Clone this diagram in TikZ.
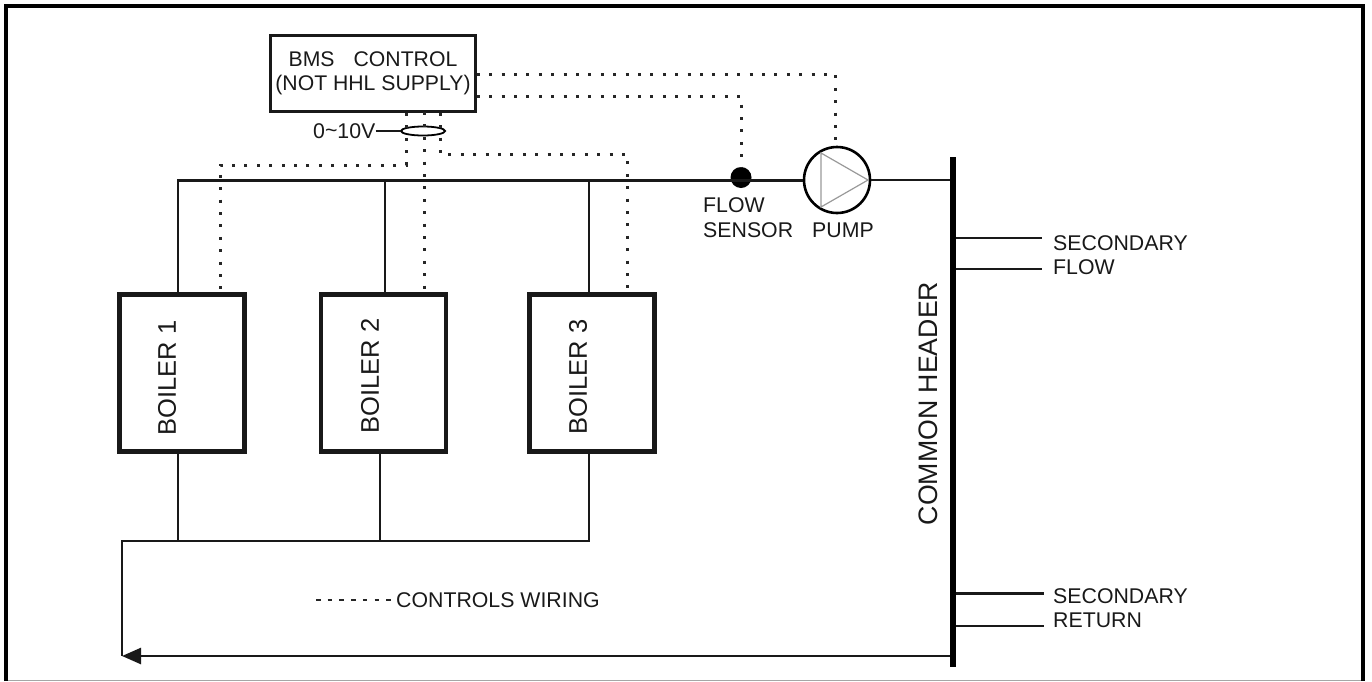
\documentclass[tikz,border=0pt]{standalone}
\usepackage{fontspec}
\setmainfont{Liberation Sans}
\usetikzlibrary{arrows.meta,calc,shapes.geometric}
\tikzset{
  pipe/.style={draw=black!90,line width=2.6pt},
  wire/.style={draw=black!85,line width=3pt,dash pattern=on 3pt off 9.4pt},
  boilerbox/.style={draw=black!90,line width=4.6pt,minimum width=125pt,minimum height=157pt,inner sep=0pt},
  lab/.style={font=\fontsize{21.3}{25}\selectfont,inner sep=0pt,text=black!90},
  biglab/.style={font=\fontsize{25.5}{30}\selectfont,inner sep=0pt,text=black!90,rotate=90},
}
\begin{document}
\begin{tikzpicture}[x=1pt,y=-1pt]
\useasboundingbox (0,0) rectangle (1372,681);
% frame
\coordinate (fbl) at (6,681); \coordinate (ftl) at (6,6); \coordinate (ftr) at (1363,6); \coordinate (fbr) at (1363,681);
\draw[black,line width=4pt,line cap=butt,line join=miter] (fbl) -- (ftl) -- (ftr) -- (fbr);
\coordinate (gl) at (8,680.5); \coordinate (gr) at (1361,680.5);
\draw[black!35,line width=1pt] (gl) -- (gr);
% nodes
\node[draw=black!90,line width=2.6pt,minimum width=205pt,minimum height=76pt,inner sep=0pt,lab,align=center,font=\fontsize{21.2}{25}\selectfont] (bms) at (373,73.5) {BMS\hspace{0.9em}CONTROL\\[-1pt](NOT HHL SUPPLY)};
\node[boilerbox] (b1) at (182,373) {};
\node[boilerbox] (b2) at (383.5,373) {};
\node[boilerbox] (b3) at (592,373) {};
\node[biglab] (t1) at (167,378) {BOILER 1};
\node[biglab] (t2) at (370,376) {BOILER 2};
\node[biglab] (t3) at (578,377) {BOILER 3};
\node[biglab,font=\fontsize{26.7}{30}\selectfont] (ch) at (928,403.5) {COMMON HEADER};
\node[fill=black,draw=none,minimum width=6pt,minimum height=510pt,inner sep=0pt] (hdr) at (953,412) {};
\node[circle,fill=black,draw=none,minimum size=21pt,inner sep=0pt] (sens) at (741,177.5) {};
\node[circle,draw=black,line width=2.6pt,minimum size=66pt,inner sep=0pt] (pump) at (837,180) {};
\coordinate (ta) at (821,153); \coordinate (tb) at (821,207); \coordinate (tc) at (868,180);
\draw[black!40,line width=1.2pt,line join=miter] (ta) -- (tc) -- (tb) -- cycle;
\node[lab,anchor=west] (lflow) at (703,205) {FLOW};
\node[lab,anchor=west] (lsens) at (703,230) {SENSOR};
\node[lab,anchor=west] (lpump) at (812,230) {PUMP};
\node[lab,anchor=west] (sf1) at (1053,243) {SECONDARY};
\node[lab,anchor=west] (sf2) at (1053,267) {FLOW};
\node[lab,anchor=west] (sr1) at (1053,596) {SECONDARY};
\node[lab,anchor=west] (sr2) at (1053,620) {RETURN};
\node[lab,anchor=west] (v) at (313,131) {0\raisebox{1pt}{\textasciitilde}10V};
\node[lab,anchor=west] (cw) at (396,600) {CONTROLS WIRING};
\node[draw=black,line width=1.8pt,ellipse,minimum width=44pt,minimum height=9pt,inner sep=0pt] (cab) at (423,131) {};
% flow pipes
\coordinate (f0) at (178,180.5);
\coordinate (f2) at (385,180.5);
\coordinate (f3) at (589,180.5);
\draw[pipe] (b1.north -| f0) -- (f0) -- (pump.west |- f0);
\draw[pipe] (b2.north -| f2) -- (f2);
\draw[pipe] (b3.north -| f3) -- (f3);
\draw[pipe] (pump.east) -- (pump.east -| hdr.west);
% return pipes
\coordinate (r0) at (122,541);
\coordinate (r1) at (178,541);
\coordinate (r2) at (380,541);
\coordinate (r3) at (589,541);
\coordinate (rb) at (122,656);
\draw[pipe] (b1.south -| r1) -- (r1);
\draw[pipe] (b2.south -| r2) -- (r2);
\draw[pipe,line join=miter] (b3.south -| r3) -- (r3) -- (r0) -- (rb);
\draw[pipe,-{Triangle[length=19pt,width=16pt]}] (hdr.west |- rb) -- (rb);
% secondary stubs
\coordinate (s1) at (1042,238); \coordinate (s2) at (1042,269);
\coordinate (s3) at (1044,593.5); \coordinate (s4) at (1044,626);
\foreach \c in {s1,s2,s3,s4} \draw[pipe] (hdr.east |- \c) -- (\c);
\draw[pipe] (v.east) -- (cab.west);
% wiring
\coordinate (w1a) at (476,74); \coordinate (w1b) at (835,74);
\coordinate (w2a) at (476,96); \coordinate (w2b) at (741,96);
\draw[wire] (bms.east |- w1a) -- (w1b) -- (w1b |- pump.north);
\draw[wire] (bms.east |- w2a) -- (w2b) -- (sens.north);
\coordinate (d1) at (406,165); \coordinate (d1b) at (220,165);
\draw[wire] (bms.south -| d1) -- (d1) -- (d1b) -- (d1b |- b1.north);
\coordinate (d2) at (424,112);
\draw[wire] (d2) -- (d2 |- b2.north);
\coordinate (d3) at (440,154); \coordinate (d3b) at (627,154);
\draw[wire] (bms.south -| d3) -- (d3) -- (d3b) -- (d3b |- b3.north);
% legend
\coordinate (la) at (316,600); \coordinate (lb) at (391,600);
\draw[wire,line width=2.6pt,dash pattern=on 4.5pt off 7.2pt] (la) -- (lb);
\end{tikzpicture}
\end{document}
